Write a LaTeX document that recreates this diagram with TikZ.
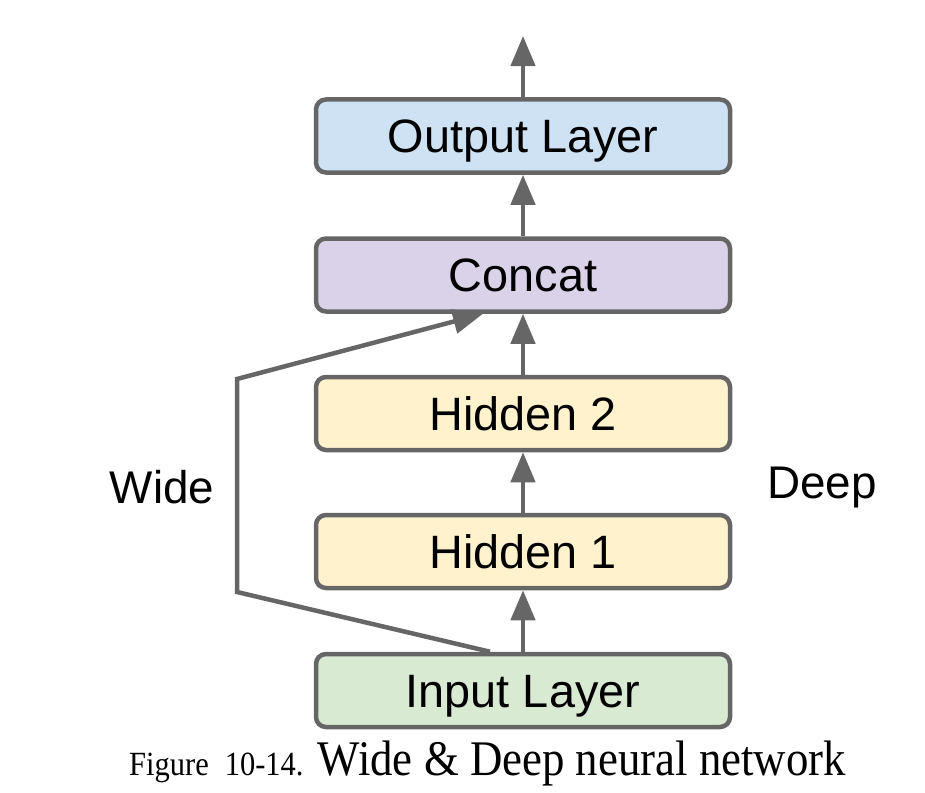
\documentclass[tikz,border=0pt]{standalone}
\usepackage{fontspec}
\setmainfont{Liberation Serif}
\setsansfont{Liberation Sans}
\newfontfamily\capfont[FakeStretch=0.9]{Liberation Serif}
\usetikzlibrary{arrows.meta,calc}
\definecolor{edge}{HTML}{666666}
\definecolor{cout}{HTML}{CFE2F3}
\definecolor{ccat}{HTML}{D9D2E9}
\definecolor{chid}{HTML}{FFF2CC}
\definecolor{cinp}{HTML}{D9EAD3}
\tikzset{
  layer/.style={draw=edge, line width=4.5bp, rounded corners=10bp, minimum width=414bp, minimum height=73bp, inner sep=0pt, text height=33bp, text depth=0bp, font=\sffamily\fontsize{47}{50}\selectfont, text=black},
  conn/.style={draw=edge, line width=4.5bp, -{Triangle[length=30bp,width=24bp,fill=edge]}},
  side/.style={font=\sffamily\fontsize{46}{50}\selectfont, text=black},
}
\begin{document}
\begin{tikzpicture}[x=1bp,y=-1bp]
\useasboundingbox (0,0) rectangle (925,793);
\node[layer, fill=cout] (out) at (523,136) {Output Layer};
\node[layer, fill=ccat] (cat) at (523,275) {Concat};
\node[layer, fill=chid] (h2) at (523,413.5) {Hidden 2};
\node[layer, fill=chid] (h1) at (523,551.5) {Hidden 1};
\node[layer, fill=cinp] (inp) at (523,690.5) {Input Layer};
\coordinate (top) at (523,36);
\coordinate (w1) at (237,592);
\coordinate (w2) at (237,379);
\draw[conn] (inp.north) -- (h1.south);
\draw[conn] (h1.north) -- (h2.south);
\draw[conn] (h2.north) -- (cat.south);
\draw[conn] (cat.north) -- (out.south);
\draw[conn] (out.north) -- (top);
\draw[conn, line join=miter] ([xshift=-33bp]inp.north) -- (w1) -- (w2) -- ([xshift=-40bp]cat.south);
\node[side] (wide) at (162,487) {Wide};
\node[side] (deep) at (822,487) {Deep};
\node[anchor=base west, inner sep=0pt] (cap) at (129,775) {\capfont\fontsize{34}{36}\selectfont Figure\hspace{16bp}10-14.\hspace{14bp}\fontsize{50}{54}\selectfont Wide \& Deep neural network};
\end{tikzpicture}
\end{document}
